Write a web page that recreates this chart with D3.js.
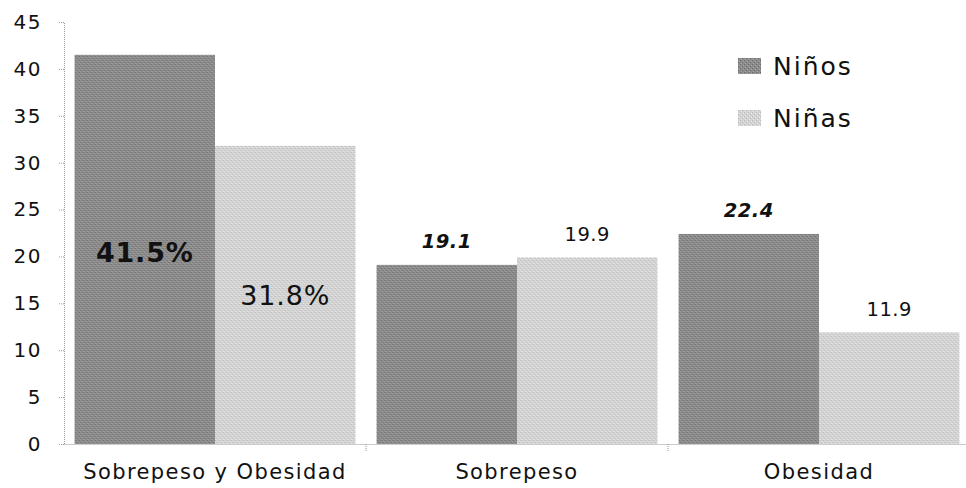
<!DOCTYPE html>
<html><head><meta charset="utf-8">
<script src="https://cdn.jsdelivr.net/npm/d3@7"></script>
<style>body{margin:0;background:#fff}svg{display:block}</style>
</head><body>
<svg id="c" width="966" height="488"></svg>
<script>
const categories = ["Sobrepeso y Obesidad", "Sobrepeso", "Obesidad"];
const series = ["Niños", "Niñas"];
const ninos = [41.5, 19.1, 22.4];
const ninas = [31.8, 19.9, 11.9];
const labelsNinos = ["41.5%", "19.1", "22.4"];
const labelsNinas = ["31.8%", "19.9", "11.9"];
const yTicks = [0, 5, 10, 15, 20, 25, 30, 35, 40, 45];

const FONT = "DejaVu Sans, Verdana, sans-serif";
const svg = d3.select("#c");
const m = {left: 64, right: -4, top: 22, bottom: 44};
const W = 966, H = 488;
const x0 = d3.scaleBand().domain(categories).range([m.left, W - m.right]).paddingInner(0.07).paddingOuter(0.035);
const x1 = d3.scaleBand().domain(series).range([0, x0.bandwidth()]);
const y = d3.scaleLinear().domain([0, 45]).range([H - m.bottom, m.top]);

// texture patterns
const defs = svg.append("defs");
function makePattern(id, base, dots) {
  const p = defs.append("pattern").attr("id", id).attr("width", 4).attr("height", 4).attr("patternUnits", "userSpaceOnUse");
  p.append("rect").attr("width", 4).attr("height", 4).attr("fill", base);
  dots.forEach(d => p.append("rect").attr("x", d[0]).attr("y", d[1]).attr("width", 1).attr("height", 1).attr("fill", d[2]));
}
makePattern("pNinos", "#8c8c8c", [[0,0,"#686868"],[2,2,"#6c6c6c"],[1,3,"#a6a6a6"],[3,1,"#a8a8a8"]]);
makePattern("pNinas", "#d3d3d3", [[0,0,"#b6b6b6"],[2,2,"#bababa"],[1,3,"#ececec"],[3,1,"#e8e8e8"]]);
const fills = {"Niños": "url(#pNinos)", "Niñas": "url(#pNinas)"};

// axes
const yAxis = d3.axisLeft(y).tickValues(yTicks).tickSize(5).tickPadding(17);
const gy = svg.append("g").attr("transform", `translate(${m.left},0)`).call(yAxis);
gy.select(".domain").attr("stroke", "#999").attr("stroke-dasharray", "1,1");
gy.selectAll(".tick line").attr("stroke", "#999").attr("stroke-dasharray", "1,1");
gy.selectAll("text").attr("font-family", FONT).attr("font-size", 20)
  .attr("letter-spacing", 1.5).attr("fill", "#111");

const xAxis = d3.axisBottom(x0).tickSize(0).tickPadding(20);
const gx = svg.append("g").attr("transform", `translate(0,${y(0)})`).call(xAxis);
gx.select(".domain").attr("stroke", "#999").attr("stroke-dasharray", "1,1");
gx.selectAll("text").attr("font-family", FONT).attr("font-size", 21)
  .attr("letter-spacing", 1.4).attr("fill", "#111");
// category separator ticks
const step = x0.step();
const seps = categories.map(c => x0(c) - x0.paddingInner() * step / 2).slice(1);
svg.append("g").selectAll("line").data(seps).join("line")
  .attr("x1", d => d).attr("x2", d => d).attr("y1", y(0)).attr("y2", y(0) + 7)
  .attr("stroke", "#999").attr("stroke-dasharray", "1,1");

// bars
const rows = categories.map((c, i) => ({c, vals: [
  {s: "Niños", v: ninos[i], lab: labelsNinos[i]},
  {s: "Niñas", v: ninas[i], lab: labelsNinas[i]}]}));
const g = svg.append("g").selectAll("g").data(rows).join("g").attr("transform", d => `translate(${x0(d.c)},0)`);
g.selectAll("rect").data(d => d.vals).join("rect")
  .attr("x", d => x1(d.s)).attr("width", x1.bandwidth())
  .attr("y", d => y(d.v)).attr("height", d => y(0) - y(d.v))
  .attr("fill", d => fills[d.s]);

// labels
rows.forEach((r, i) => {
  const gx0 = x0(r.c);
  r.vals.forEach(d => {
    const cx = gx0 + x1(d.s) + x1.bandwidth() / 2;
    const t = svg.append("text").attr("x", cx).attr("text-anchor", "middle").attr("fill", "#111")
      .attr("font-family", FONT).text(d.lab);
    if (i === 0) {
      t.attr("font-size", 27).attr("letter-spacing", 0.8);
      if (d.s === "Niños") t.attr("font-weight", "bold").attr("y", y(20) + 6);
      else t.attr("y", y(15.4) + 5);
    } else {
      t.attr("font-size", 19.5).attr("letter-spacing", 0.5);
      if (d.s === "Niños") t.attr("font-weight", "bold").attr("font-style", "italic").attr("y", y(d.v) - 17);
      else t.attr("y", y(d.v) - 16);
    }
  });
});

// legend
const lg = svg.append("g").attr("transform", "translate(738,58)");
series.forEach((s, i) => {
  const row = lg.append("g").attr("transform", `translate(0,${i * 52})`);
  row.append("rect").attr("width", 23).attr("height", 16).attr("fill", fills[s]);
  row.append("text").attr("x", 35).attr("y", 17).attr("font-family", FONT)
    .attr("font-size", 25).attr("letter-spacing", 2).attr("fill", "#111").text(s);
});
</script>
</body></html>
